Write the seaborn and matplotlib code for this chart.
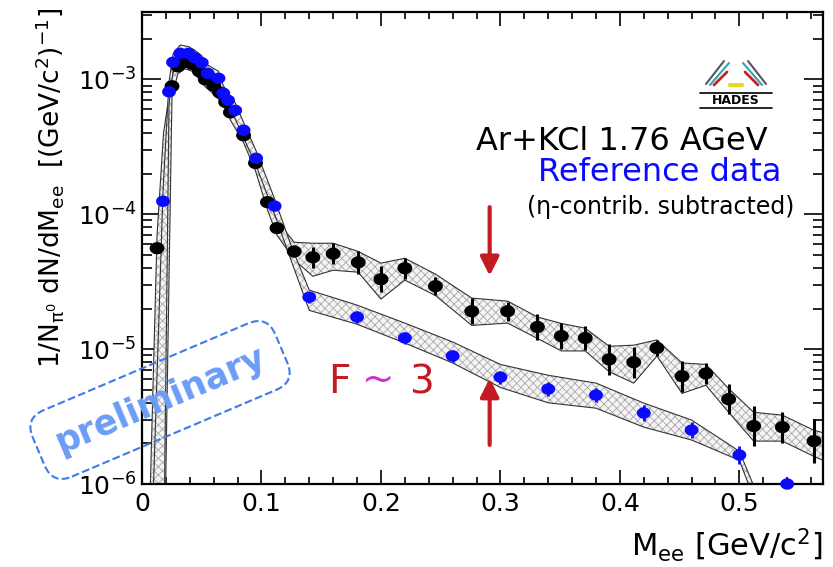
import numpy as np
import pandas as pd
import matplotlib
matplotlib.use("Agg")
import matplotlib.pyplot as plt
import seaborn as sns
from matplotlib.path import Path
from matplotlib.lines import Line2D
from matplotlib.ticker import MultipleLocator, LogLocator, NullFormatter, FuncFormatter

# ---------------- data ----------------
# Ar+KCl measured spectrum (black)
x_black = [0.0126, 0.0251, 0.030, 0.036, 0.042, 0.048, 0.053, 0.060, 0.065, 0.070,
           0.074, 0.085, 0.095, 0.105, 0.113, 0.1274, 0.143, 0.160, 0.181, 0.200,
           0.220, 0.2456, 0.276, 0.306, 0.331, 0.351, 0.371, 0.391, 0.4116, 0.431,
           0.452, 0.472, 0.491, 0.512, 0.536, 0.5625]
y_black = [5.6e-5, 8.9e-4, 1.25e-3, 1.35e-3, 1.30e-3, 1.15e-3, 1.0e-3, 9.0e-4, 8.0e-4, 6.8e-4,
           5.7e-4, 3.85e-4, 2.4e-4, 1.23e-4, 7.9e-5, 5.3e-5, 4.8e-5, 5.1e-5, 4.4e-5, 3.3e-5,
           3.98e-5, 2.93e-5, 1.91e-5, 1.91e-5, 1.46e-5, 1.25e-5, 1.21e-5, 8.4e-6, 8.0e-6, 1.02e-5,
           6.3e-6, 6.6e-6, 4.26e-6, 2.69e-6, 2.64e-6, 2.08e-6]
# statistical error as multiplicative factor
err_black = [1.05, 1.05, 1.05, 1.05, 1.05, 1.05, 1.05, 1.05, 1.05, 1.05,
             1.05, 1.05, 1.05, 1.05, 1.05, 1.10, 1.20, 1.20, 1.22, 1.25,
             1.20, 1.17, 1.25, 1.18, 1.25, 1.25, 1.22, 1.30, 1.30, 1.15,
             1.30, 1.20, 1.30, 1.40, 1.30, 1.45]
# systematic band (black)
band_black_x = [0.004, 0.0126, 0.018, 0.0251, 0.030, 0.036, 0.042, 0.048, 0.053, 0.060,
                0.065, 0.070, 0.074, 0.085, 0.095, 0.105, 0.113, 0.1274, 0.143, 0.160,
                0.181, 0.200, 0.220, 0.2456, 0.276, 0.306, 0.331, 0.351, 0.371, 0.391,
                0.4116, 0.431, 0.452, 0.472, 0.491, 0.512, 0.536, 0.5625, 0.57]
band_black_lo = [1e-7, 1e-7, 1e-7, 7.5e-4, 1.1e-3, 1.2e-3, 1.15e-3, 1.0e-3, 8.8e-4, 7.8e-4,
                 7.0e-4, 6.0e-4, 5.0e-4, 3.4e-4, 2.1e-4, 1.08e-4, 7.0e-5, 4.6e-5, 3.47e-5, 3.85e-5,
                 3.72e-5, 2.35e-5, 3.25e-5, 2.5e-5, 1.5e-5, 1.56e-5, 1.2e-5, 9.7e-6, 9.7e-6, 6.8e-6,
                 5.6e-6, 8.9e-6, 4.7e-6, 5.4e-6, 3.4e-6, 2.08e-6, 2.08e-6, 1.6e-6, 1.5e-6]
band_black_hi = [1e-7, 7e-5, 4e-4, 1.05e-3, 1.45e-3, 1.6e-3, 1.55e-3, 1.35e-3, 1.18e-3, 1.05e-3,
                 9.3e-4, 7.8e-4, 6.6e-4, 4.4e-4, 2.8e-4, 1.4e-4, 9.0e-5, 6.2e-5, 6.1e-5, 6.1e-5,
                 5.3e-5, 4.34e-5, 4.72e-5, 3.6e-5, 2.39e-5, 2.27e-5, 1.73e-5, 1.55e-5, 1.43e-5, 1.05e-5,
                 1.07e-5, 1.17e-5, 7.9e-6, 7.7e-6, 5.1e-6, 3.4e-6, 3.24e-6, 2.5e-6, 2.4e-6]

# Reference data (blue)
x_blue = [0.0176, 0.0226, 0.026, 0.032, 0.039, 0.044, 0.050, 0.055, 0.064, 0.068,
          0.072, 0.078, 0.085, 0.0955, 0.111, 0.14, 0.18, 0.22, 0.26, 0.30,
          0.34, 0.38, 0.42, 0.46, 0.50, 0.54]
y_blue = [1.25e-4, 8.1e-4, 1.34e-3, 1.56e-3, 1.56e-3, 1.45e-3, 1.33e-3, 1.11e-3, 1.02e-3, 7.9e-4,
          7.0e-4, 5.9e-4, 4.2e-4, 2.6e-4, 1.15e-4, 2.43e-5, 1.73e-5, 1.21e-5, 8.9e-6, 6.2e-6,
          5.06e-6, 4.56e-6, 3.36e-6, 2.51e-6, 1.64e-6, 1.0e-6]
err_blue = [1.05, 1.05, 1.05, 1.05, 1.05, 1.05, 1.05, 1.05, 1.05, 1.05,
            1.05, 1.05, 1.05, 1.05, 1.05, 1.10, 1.10, 1.10, 1.10, 1.12,
            1.12, 1.12, 1.14, 1.15, 1.17, 1.10]
band_blue_x = [0.006, 0.0176, 0.0226, 0.026, 0.032, 0.039, 0.044, 0.050, 0.055, 0.064,
               0.068, 0.072, 0.078, 0.085, 0.0955, 0.111, 0.125, 0.14, 0.18, 0.22,
               0.26, 0.30, 0.34, 0.38, 0.42, 0.46, 0.50, 0.53]
band_blue_lo = [1e-7, 1e-7, 6.5e-4, 1.15e-3, 1.35e-3, 1.35e-3, 1.25e-3, 1.15e-3, 9.6e-4, 8.8e-4,
                6.9e-4, 6.1e-4, 5.1e-4, 3.7e-4, 2.3e-4, 1.0e-4, 4.5e-5, 1.94e-5, 1.53e-5, 1.11e-5,
                7.9e-6, 5.2e-6, 4.0e-6, 3.65e-6, 2.64e-6, 2.12e-6, 1.5e-6, 3e-7]
band_blue_hi = [1e-7, 1.5e-4, 9.5e-4, 1.55e-3, 1.8e-3, 1.75e-3, 1.65e-3, 1.5e-3, 1.28e-3, 1.15e-3,
                9e-4, 8e-4, 6.7e-4, 4.8e-4, 2.95e-4, 1.3e-4, 5.8e-5, 2.74e-5, 2.12e-5, 1.56e-5,
                1.13e-5, 7.7e-6, 6.4e-6, 5.6e-6, 3.98e-6, 2.98e-6, 1.75e-6, 4e-7]

arrow_x = 0.291
arrow_down = (1.13e-4, 3.5e-5)
arrow_up = (1.95e-6, 6.1e-6)

# ---------------- styling ----------------
sns.set_theme(style="ticks")
plt.rcParams['font.family'] = ['DejaVu Sans']
plt.rcParams['hatch.linewidth'] = 0.6
plt.rcParams['mathtext.default'] = 'regular'

W, H = 833, 567
fig = plt.figure(figsize=(W / 100, H / 100), dpi=100)
fig.patch.set_facecolor('white')
ax = fig.add_axes([142 / W, 1 - 484 / H, (823 - 142) / W, (484 - 12) / H])
ax.set_facecolor('white')
ax.set_yscale('log')
ax.set_xlim(0, 0.57)
ax.set_ylim(1e-6, 10 ** -2.5)

BLUE = '#0a0aff'
RED = '#c41a22'

def draw_band(x, lo, hi, z):
    ax.fill_between(x, lo, hi, facecolor='#f4f4f4', edgecolor='#a8a8a8',
                    hatch='xxxx', linewidth=0, zorder=z)
    ax.plot(x, lo, color='#333333', lw=0.8, zorder=z + 0.1)
    ax.plot(x, hi, color='#333333', lw=0.8, zorder=z + 0.1)

draw_band(band_black_x, band_black_lo, band_black_hi, 1)
draw_band(band_blue_x, band_blue_lo, band_blue_hi, 1.5)

# ellipse marker (slightly wider than tall, like the reference)
t = np.linspace(0, 2 * np.pi, 40)
ell = Path(np.column_stack([np.cos(t), 0.82 * np.sin(t)]), closed=True)

df_b = pd.DataFrame({'x': x_black, 'y': y_black, 'f': err_black})
df_bl = pd.DataFrame({'x': x_blue, 'y': y_blue, 'f': err_blue})

ax.errorbar(df_b['x'], df_b['y'],
            yerr=[df_b['y'] - df_b['y'] / df_b['f'], df_b['y'] * df_b['f'] - df_b['y']],
            fmt='none', ecolor='black', elinewidth=2.2, capsize=0, zorder=3)
sns.scatterplot(data=df_b, x='x', y='y', color='black', marker=ell, s=115,
                linewidth=0, edgecolor='none', ax=ax, zorder=4, legend=False)

ax.errorbar(df_bl['x'], df_bl['y'],
            yerr=[df_bl['y'] - df_bl['y'] / df_bl['f'], df_bl['y'] * df_bl['f'] - df_bl['y']],
            fmt='none', ecolor=BLUE, elinewidth=2.0, capsize=0, zorder=5)
sns.scatterplot(data=df_bl, x='x', y='y', color=BLUE, marker=ell, s=100,
                linewidth=0, edgecolor='none', ax=ax, zorder=6, legend=False, clip_on=False)

# arrows
ax.annotate('', xy=(arrow_x, arrow_down[1]), xytext=(arrow_x, arrow_down[0]),
            arrowprops=dict(arrowstyle='-|>', color=RED, lw=3, mutation_scale=28,
                            shrinkA=0, shrinkB=0), zorder=7)
ax.annotate('', xy=(arrow_x, arrow_up[1]), xytext=(arrow_x, arrow_up[0]),
            arrowprops=dict(arrowstyle='-|>', color=RED, lw=3, mutation_scale=28,
                            shrinkA=0, shrinkB=0), zorder=7)

# axes / ticks
ax.xaxis.set_major_locator(MultipleLocator(0.1))
ax.xaxis.set_minor_locator(MultipleLocator(0.02))
ax.xaxis.set_major_formatter(FuncFormatter(lambda v, p: f'{v:g}'))
ax.yaxis.set_major_locator(LogLocator(base=10, numticks=10))
ax.yaxis.set_minor_locator(LogLocator(base=10, subs=np.arange(2, 10), numticks=20))
ax.yaxis.set_minor_formatter(NullFormatter())
ax.tick_params(axis='both', which='both', direction='in', top=True, right=True,
               colors='black', width=1.2)
ax.tick_params(axis='x', which='major', length=10, labelsize=18, pad=6)
ax.tick_params(axis='x', which='minor', length=5)
ax.tick_params(axis='y', which='major', length=14, labelsize=18, pad=4)
ax.tick_params(axis='y', which='minor', length=7)
for s in ax.spines.values():
    s.set_color('black')
    s.set_linewidth(1.6)
ax.set_xlabel('')
ax.set_ylabel('')

# axis titles
fig.text(823 / W, 1 - 545 / H, r'M$_{ee}$ [GeV/c$^{2}$]', ha='right', va='center',
         fontsize=22, color='black')
fig.text(50 / W, 1 - 8 / H, r'1/N$_{\pi^{0}}$ dN/dM$_{ee}$  [(GeV/c$^{2}$)$^{-1}$]',
         rotation=90, ha='center', va='top', fontsize=19, color='black')

# annotations
fig.text(768 / W, 1 - 142 / H, 'Ar+KCl 1.76 AGeV', ha='right', va='center',
         fontsize=23, color='black')
fig.text(781 / W, 1 - 173 / H, 'Reference data', ha='right', va='center',
         fontsize=23, color=BLUE)
fig.text(794 / W, 1 - 207 / H, '(η-contrib. subtracted)', ha='right', va='center',
         fontsize=17, color='black')

fig.text(339 / W, 1 - 382 / H, 'F', ha='center', va='center', fontsize=28, color=RED)
fig.text(378 / W, 1 - 380 / H, '~', ha='center', va='center', fontsize=28, color='#cc33cc')
fig.text(421 / W, 1 - 382 / H, '3', ha='center', va='center', fontsize=28, color=RED)

fig.text(160 / W, 1 - 400 / H, 'preliminary', rotation=23, rotation_mode='anchor',
         ha='center', va='center', fontsize=25, fontweight='bold', color='#6b9cf5',
         bbox=dict(boxstyle='round,pad=0.55,rounding_size=0.6', fc='none',
                   ec='#3f7be8', ls='--', lw=1.5), zorder=10)

# HADES logo (approximation)
fig.text(736 / W, 1 - 101 / H, 'HADES', ha='center', va='center', fontsize=9,
         fontweight='bold', color='black')
logo_lines = [
    ((700, 772), (93, 93), 'black', 1.2),
    ((700, 772), (108, 108), 'black', 1.2),
    ((706, 724), (84, 61), '#555566', 1.5),
    ((710, 729), (85, 63), '#30a8a8', 1.5),
    ((714, 727), (85, 72), '#cc2020', 2.0),
    ((766, 748), (84, 61), '#555566', 1.5),
    ((762, 743), (85, 63), '#30a8a8', 1.5),
    ((758, 745), (85, 72), '#cc2020', 2.0),
    ((730, 742), (85, 85), '#e8d820', 3.0),
]
for xs, ys, c, lw in logo_lines:
    fig.add_artist(Line2D([x / W for x in xs], [1 - y / H for y in ys], color=c, lw=lw))

fig.savefig('out.png', dpi=100, facecolor='white')
